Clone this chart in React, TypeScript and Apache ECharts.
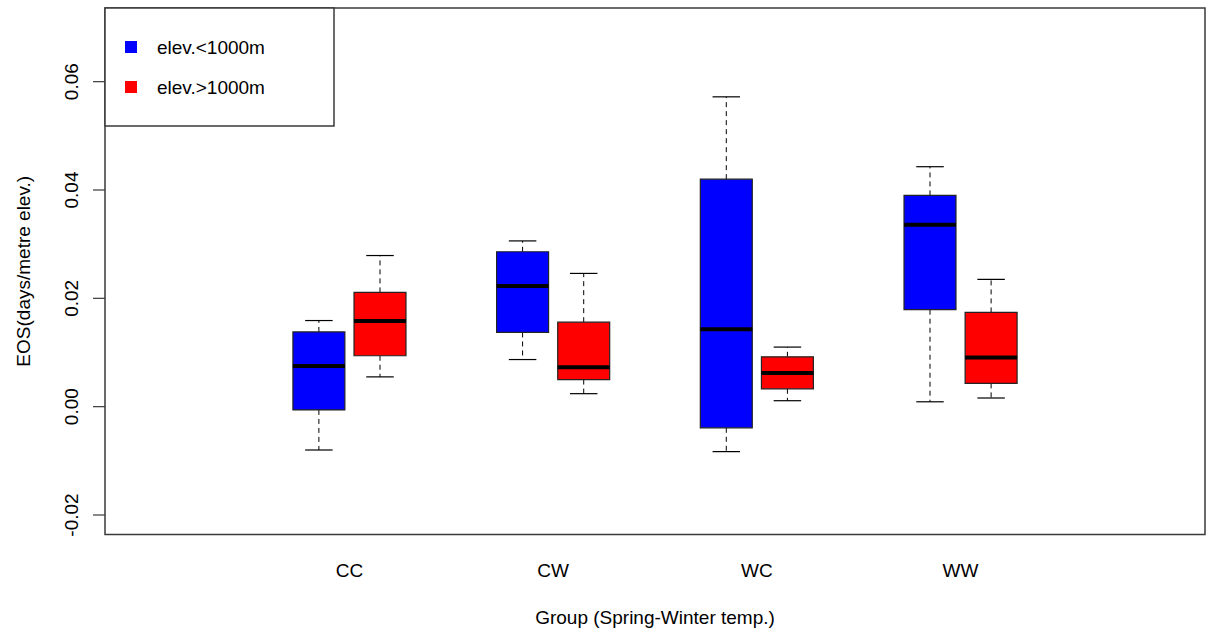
import React, { useEffect, useRef } from "react";
import * as echarts from "echarts";

// Groups along the x axis
const categories = ["CC", "CW", "WC", "WW"];

// Box statistics per group: [lower whisker, Q1, median, Q3, upper whisker]
const lowElevStats = [
  [-0.008, -0.0006, 0.0075, 0.0138, 0.0159],
  [0.0087, 0.0137, 0.0223, 0.0286, 0.0306],
  [-0.0083, -0.0039, 0.0143, 0.042, 0.0572],
  [0.0009, 0.0179, 0.0336, 0.039, 0.0443],
];
const highElevStats = [
  [0.0055, 0.0094, 0.0158, 0.0211, 0.0279],
  [0.0024, 0.005, 0.0073, 0.0156, 0.0246],
  [0.0011, 0.0033, 0.0062, 0.0092, 0.011],
  [0.0016, 0.0043, 0.0091, 0.0174, 0.0235],
];

const seriesNames = ["elev.<1000m", "elev.>1000m"];
const seriesColors = ["#0000FF", "#FF0000"];
const yTicks = [-0.02, 0, 0.02, 0.04, 0.06];

const FONT = "'Liberation Sans', Arial, sans-serif";
const X_MIN = -0.2;
const X_MAX = 5.2;
const BOX_WIDTH = 0.255; // in x-axis units
const CAP_WIDTH = 0.135;
const OFFSET = 0.15;
const TICK_LEN = 12;

function renderBox(color: string) {
  return (params: any, api: any) => {
    const x = api.value(0);
    const low = api.value(1);
    const q1 = api.value(2);
    const med = api.value(3);
    const q3 = api.value(4);
    const high = api.value(5);
    const [cx, yLow] = api.coord([x, low]);
    const yQ1 = api.coord([x, q1])[1];
    const yMed = api.coord([x, med])[1];
    const yQ3 = api.coord([x, q3])[1];
    const yHigh = api.coord([x, high])[1];
    const hw = api.size([BOX_WIDTH, 0])[0] / 2;
    const cw = api.size([CAP_WIDTH, 0])[0] / 2;
    const dashed = { stroke: "#000", lineWidth: 1, lineDash: [5, 4] };
    const solid = { stroke: "#000", lineWidth: 1.2 };
    return {
      type: "group",
      children: [
        { type: "line", shape: { x1: cx, y1: yQ3, x2: cx, y2: yHigh }, style: dashed },
        { type: "line", shape: { x1: cx, y1: yQ1, x2: cx, y2: yLow }, style: dashed },
        { type: "line", shape: { x1: cx - cw, y1: yHigh, x2: cx + cw, y2: yHigh }, style: solid },
        { type: "line", shape: { x1: cx - cw, y1: yLow, x2: cx + cw, y2: yLow }, style: solid },
        {
          type: "rect",
          shape: { x: cx - hw, y: yQ3, width: hw * 2, height: yQ1 - yQ3 },
          style: { fill: color, stroke: "#222", lineWidth: 1.2 },
        },
        { type: "line", shape: { x1: cx - hw, y1: yMed, x2: cx + hw, y2: yMed }, style: { stroke: "#000", lineWidth: 4 } },
      ],
    };
  };
}

// Outward tick marks on the left edge of the plot
function renderTick(params: any, api: any) {
  const [x, y] = api.coord([api.value(0), api.value(1)]);
  return {
    type: "line",
    shape: { x1: x - TICK_LEN, y1: y, x2: x, y2: y },
    style: { stroke: "#3a3a3a", lineWidth: 1.2 },
  };
}

export default function App() {
  const ref = useRef<HTMLDivElement>(null);

  useEffect(() => {
    if (!ref.current) return;
    const chart = echarts.init(ref.current, undefined, { renderer: "svg" });

    const groups = [lowElevStats, highElevStats];
    const series: any[] = groups.map((stats, si) => ({
      type: "custom",
      name: seriesNames[si],
      renderItem: renderBox(seriesColors[si]),
      encode: { x: 0, y: [1, 2, 3, 4, 5] },
      data: stats.map((s, i) => [i + 1 + (si === 0 ? -OFFSET : OFFSET), ...s]),
      z: 2,
    }));
    series.push({
      type: "custom",
      name: "ticks",
      renderItem: renderTick,
      clip: false,
      silent: true,
      encode: { x: 0, y: 1 },
      data: yTicks.map((v) => [X_MIN, v]),
      z: 1,
    });

    const legendItems: any[] = [];
    seriesNames.forEach((name, i) => {
      const cy = 47 + i * 40;
      legendItems.push({
        type: "rect",
        shape: { x: 125, y: cy - 6, width: 12, height: 12 },
        style: { fill: seriesColors[i] },
      });
      legendItems.push({
        type: "text",
        x: 157,
        y: cy,
        style: {
          text: name,
          fill: "#000",
          font: `19px ${FONT}`,
          verticalAlign: "middle",
        },
      });
    });

    chart.setOption({
      animation: false,
      backgroundColor: "#fff",
      textStyle: { fontFamily: FONT },
      grid: {
        left: 105,
        top: 8,
        right: 1,
        bottom: 102.5,
        show: true,
        borderColor: "#3a3a3a",
        borderWidth: 1.5,
        backgroundColor: "transparent",
      },
      xAxis: {
        type: "value",
        min: X_MIN,
        max: X_MAX,
        axisLine: { show: false },
        axisTick: { show: false },
        splitLine: { show: false },
        axisLabel: {
          customValues: [1, 2, 3, 4],
          formatter: (v: number) => categories[Math.round(v) - 1] ?? "",
          fontSize: 19,
          color: "#000",
          margin: 26,
          fontFamily: FONT,
        },
        name: "Group (Spring-Winter temp.)",
        nameLocation: "middle",
        nameGap: 73,
        nameTextStyle: { fontSize: 19, color: "#000", fontFamily: FONT },
      },
      yAxis: {
        type: "value",
        min: -0.0236,
        max: 0.0736,
        axisLine: { show: false },
        splitLine: { show: false },
        axisTick: { show: false },
        axisLabel: {
          customValues: yTicks,
          formatter: (v: number) => v.toFixed(2),
          rotate: 90,
          fontSize: 19,
          color: "#000",
          margin: 24,
          fontFamily: FONT,
        },
        name: "EOS(days/metre elev.)",
        nameLocation: "middle",
        nameRotate: 90,
        nameGap: 72,
        nameTextStyle: { fontSize: 19, color: "#000", fontFamily: FONT },
      },
      graphic: [
        {
          type: "group",
          z: 100,
          children: [
            {
              type: "rect",
              shape: { x: 105, y: 8, width: 229, height: 118 },
              style: { fill: "#fff", stroke: "#3a3a3a", lineWidth: 1.5 },
            },
            ...legendItems,
          ],
        },
      ],
      series,
    });

    return () => chart.dispose();
  }, []);

  return (
    <div
      ref={ref}
      style={{ position: "fixed", left: 0, top: 0, width: 1206, height: 637, background: "#fff" }}
    />
  );
}
